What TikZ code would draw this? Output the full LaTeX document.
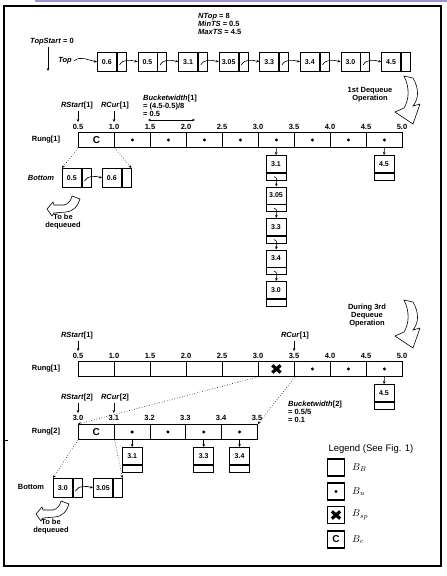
\documentclass[tikz,border=0pt]{standalone}
\usepackage{fontspec}
\setmainfont{Liberation Sans}
\usetikzlibrary{arrows.meta}
\begin{document}
\begin{tikzpicture}[x=1pt,y=-1pt,
  txt/.style={font=\fontsize{7.5}{8}\selectfont\bfseries, inner sep=0pt},
  val/.style={draw, line width=0.7pt, minimum width=19pt, minimum height=19pt, inner sep=0pt, anchor=north west, font=\fontsize{7}{8}\selectfont\bfseries},
  ptr/.style={draw, line width=0.7pt, minimum width=9pt, minimum height=19pt, inner sep=0pt, anchor=west},
  cell/.style={draw, line width=0.9pt, minimum height=15pt, inner sep=0pt, anchor=north west},
  lval/.style={draw, line width=0.7pt, minimum width=20pt, minimum height=17pt, inner sep=0pt, anchor=north, font=\fontsize{7}{8}\selectfont\bfseries},
  lptr/.style={draw, line width=0.7pt, minimum width=20pt, minimum height=7pt, inner sep=0pt, anchor=north},
  arr/.style={-{Stealth[length=3pt,width=2.6pt]}, line width=0.6pt},
  dotl/.style={dotted, line width=0.7pt},
  hollow/.style={draw, line width=0.6pt, fill=white},
  cbig/.style={font=\fontsize{10}{10}\selectfont\bfseries, inner sep=0pt},
  legbox/.style={draw, line width=1.2pt, minimum size=17pt, inner sep=0pt}
]
\useasboundingbox (0,0) rectangle (447,576);
% frame
\draw[color={rgb,255:red,150;green,150;blue,215}, line width=2pt] (35,1) -- (447,1);
\draw[line width=1.2pt] (4,6) rectangle (441,566);
\draw[line width=0.8pt] (4,440) -- (8,440);

% ===== top list =====
\node[txt, anchor=north west, align=left] (stats) at (198,13) {\textit{NTop} = 8\\\textit{MinTS} = 0.5\\\textit{MaxTS} = 4.5};
\node[txt] (ts) at (52,42) {\textit{TopStart} = 0};
\coordinate (tsend) at (48,71);
\draw[arr] (48,47) -- (tsend);
\node[txt] (top) at (65,61) {\textit{Top}};
\foreach \v [count=\i from 0] in {0.6,0.5,3.1,3.05,3.3,3.4,3.0,4.5} {
  \node[val] (t\i) at ({97+40.6*\i},52) {\v};
  \node[ptr] (tp\i) at (t\i.east) {};
}
\draw[arr] ([xshift=2pt]top.east) to[out=40,in=170] (t0.west);
\foreach \i/\j in {0/1,1/2,2/3,3/4,4/5,5/6,6/7} {
  \draw[arr] ([xshift=-2pt,yshift=-3pt]tp\i.center) to[out=60,in=165] (t\j.west);
}

% 1st dequeue arrow
\draw[hollow] (404,76) -- (413,78) .. controls (420,90) and (418,100) .. (413,106)
  -- (420,104) -- (413,124) -- (395,112) -- (404,108)
  .. controls (409,100) and (410,88) .. (404,76) -- cycle;
\node[txt, align=center] (dq1) at (370,95) {1st Dequeue\\Operation};

% ===== rung 1 (first) =====
\foreach \k in {0,...,8} \node[cell, minimum width=36pt] (a\k) at ({78+36*\k},132) {};
\node[cbig] at (a0) {C};
\foreach \k in {1,...,8} \fill (a\k.center) circle (1.7pt);
\foreach \k/\l in {0/0.5,1/1.0,2/1.5,3/2.0,4/2.5,5/3.0,6/3.5,7/4.0,8/4.5,9/5.0}
  \node[txt] at ({78+36*\k},127) {\l};
\node[txt] (rung1) at (46,140) {Rung[1]};
\node[txt] (rs1) at (77,106) {\textit{RStart}[1]};
\node[txt] (rc1) at (115,106) {\textit{RCur}[1]};
\draw[arr] (78,111) -- (78,122);
\draw[arr] (114,111) -- (114,122);
\node[txt, anchor=north west, align=left] (bw1) at (143,95) {\textit{Bucketwidth}[1]\\= (4.5-0.5)/8\\= 0.5};
\coordinate (bwa) at (148,120);
\coordinate (bwb) at (195,120);
\draw[{Stealth[length=3pt,width=2.6pt]}-{Stealth[length=3pt,width=2.6pt]}, line width=0.6pt] (bwa) -- (bwb);

% vertical list under 3.0
\foreach \v [count=\i from 0] in {3.1,3.05,3.3,3.4,3.0} {
  \node[lval] (l\i) at (276,{155+31.5*\i}) {\v};
  \node[lptr] (lp\i) at (l\i.south) {};
}
\draw[arr] (a5.south) -- (l0.north);
\foreach \i/\j in {0/1,1/2,2/3,3/4}
  \draw[arr] ([xshift=-2pt]lp\i.center) to[out=-10,in=80] (l\j.north);
% 4.5 box
\node[lval] (m0) at (384,155) {4.5};
\node[lptr] (mp0) at (m0.south) {};
\draw[arr] (a8.south) -- (m0.north);

% bottom list 1
\node[txt] (bot1) at (41,178) {\textit{Bottom}};
\node[val] (b0) at (62,168) {0.5};
\node[ptr] (bp0) at (b0.east) {};
\node[val] (b1) at (102,168) {0.6};
\node[ptr] (bp1) at (b1.east) {};
\draw[dotl, arr] (a0.south west) -- (b0.north west);
\draw[dotl, arr] (a0.south east) -- (bp1.north east);
\draw[arr] ([xshift=-2pt,yshift=-3pt]bp0.center) to[out=60,in=165] (b1.west);
% to be dequeued 1
\draw[hollow] (72,196) -- (80,199) .. controls (78,206) and (74,211) .. (66,212)
  -- (54,213) -- (52,216) -- (47,209) -- (53,202) -- (54,205) -- (64,205)
  .. controls (68,204) and (71,201) .. (72,196) -- cycle;
\node[txt, align=center] (tbd1) at (63,222) {To be\\dequeued};

% ===== second part =====
\draw[hollow] (404,300) -- (413,302) .. controls (420,314) and (418,324) .. (413,330)
  -- (420,328) -- (413,348) -- (395,336) -- (404,332)
  .. controls (409,324) and (410,312) .. (404,300) -- cycle;
\node[txt, align=center] (dq3) at (367,316) {During 3rd\\Dequeue\\Operation};

\foreach \k in {0,...,8} \node[cell, minimum width=36pt] (c\k) at ({78+36*\k},361) {};
\draw[line width=3.2pt] (c5.center) +(-4.2,-3.6) -- +(4.2,3.6) (c5.center) +(-4.2,3.6) -- +(4.2,-3.6);
\foreach \k in {6,7,8} \fill (c\k.center) circle (1.7pt);
\foreach \k/\l in {0/0.5,1/1.0,2/1.5,3/2.0,4/2.5,5/3.0,6/3.5,7/4.0,8/4.5,9/5.0}
  \node[txt] at ({78+36*\k},356) {\l};
\node[txt] (rung1b) at (46,369) {Rung[1]};
\node[txt] (rs1b) at (77,336) {\textit{RStart}[1]};
\node[txt] (rc1b) at (295,336) {\textit{RCur}[1]};
\draw[arr] (78,341) -- (78,351);
\draw[arr] (294,341) -- (294,351);
\node[lval] (m1) at (384,384) {4.5};
\node[lptr] (mp1) at (m1.south) {};
\draw[arr] (c8.south) -- (m1.north);

% rung 2
\foreach \k in {0,...,4} \node[cell, minimum width=35.8pt] (d\k) at ({78+35.8*\k},424) {};
\node[cbig] at (d0) {C};
\foreach \k in {1,...,4} \fill (d\k.center) circle (1.7pt);
\foreach \k/\l in {0/3.0,1/3.1,2/3.2,3/3.3,4/3.4,5/3.5}
  \node[txt] at ({78+35.8*\k},418) {\l};
\node[txt] (rung2) at (46,432) {Rung[2]};
\node[txt] (rs2) at (77,398) {\textit{RStart}[2]};
\node[txt] (rc2) at (115,398) {\textit{RCur}[2]};
\draw[arr] (78,403) -- (78,413);
\draw[arr] (113.8,403) -- (113.8,413);
\draw[dotl, arr] (c5.south west) -- (d0.north west);
\draw[dotl, arr] (c5.south east) -- (d4.north east);
\node[txt, anchor=north west, align=left] (bw2) at (288,401) {\textit{Bucketwidth}[2]\\= 0.5/5\\= 0.1};
\foreach \v/\k [count=\i from 0] in {3.1/1,3.3/3,3.4/4} {
  \node[lval] (n\i) at (d\k.south |- 0,447) {\v};
  \node[lptr] (np\i) at (n\i.south) {};
  \draw[arr] (d\k.south) -- (n\i.north);
}

% bottom list 2
\node[txt] (bot2) at (31,487) {Bottom};
\node[val] (e0) at (53,478) {3.0};
\node[ptr] (ep0) at (e0.east) {};
\node[val] (e1) at (93,478) {3.05};
\node[ptr] (ep1) at (e1.east) {};
\draw[dotl, arr] (d0.south west) -- (e0.north west);
\draw[dotl, arr] (d0.south east) -- (ep1.north east);
\draw[arr] ([xshift=-2pt,yshift=-3pt]ep0.center) to[out=60,in=165] (e1.west);
\begin{scope}[shift={(-11,305)}]
\draw[hollow] (72,196) -- (80,199) .. controls (78,206) and (74,211) .. (66,212)
  -- (54,213) -- (52,216) -- (47,209) -- (53,202) -- (54,205) -- (64,205)
  .. controls (68,204) and (71,201) .. (72,196) -- cycle;
\end{scope}
\node[txt, align=center] (tbd2) at (51,527) {To be\\dequeued};

% legend
\node[font=\fontsize{9.5}{10}\selectfont, inner sep=0pt] (leg) at (371,449) {Legend (See Fig. 1)};
\node[legbox] (g0) at (336,467.5) {};
\node[legbox] (g1) at (336,491.5) {};
\node[legbox] (g2) at (336,515) {};
\node[legbox] (g3) at (336,539.5) {};
\fill (g1.center) circle (1.7pt);
\draw[line width=3.2pt] (g2.center) +(-4.2,-3.6) -- +(4.2,3.6) (g2.center) +(-4.2,3.6) -- +(4.2,-3.6);
\node[cbig] at (g3) {C};
\node[anchor=west, inner sep=0pt, font=\fontsize{10}{10}\selectfont] at (352,467.5) {$B_B$};
\node[anchor=west, inner sep=0pt, font=\fontsize{10}{10}\selectfont] at (352,491.5) {$B_u$};
\node[anchor=west, inner sep=0pt, font=\fontsize{10}{10}\selectfont] at (352,515) {$B_{sp}$};
\node[anchor=west, inner sep=0pt, font=\fontsize{10}{10}\selectfont] at (352,539.5) {$B_c$};
\end{tikzpicture}
\end{document}
